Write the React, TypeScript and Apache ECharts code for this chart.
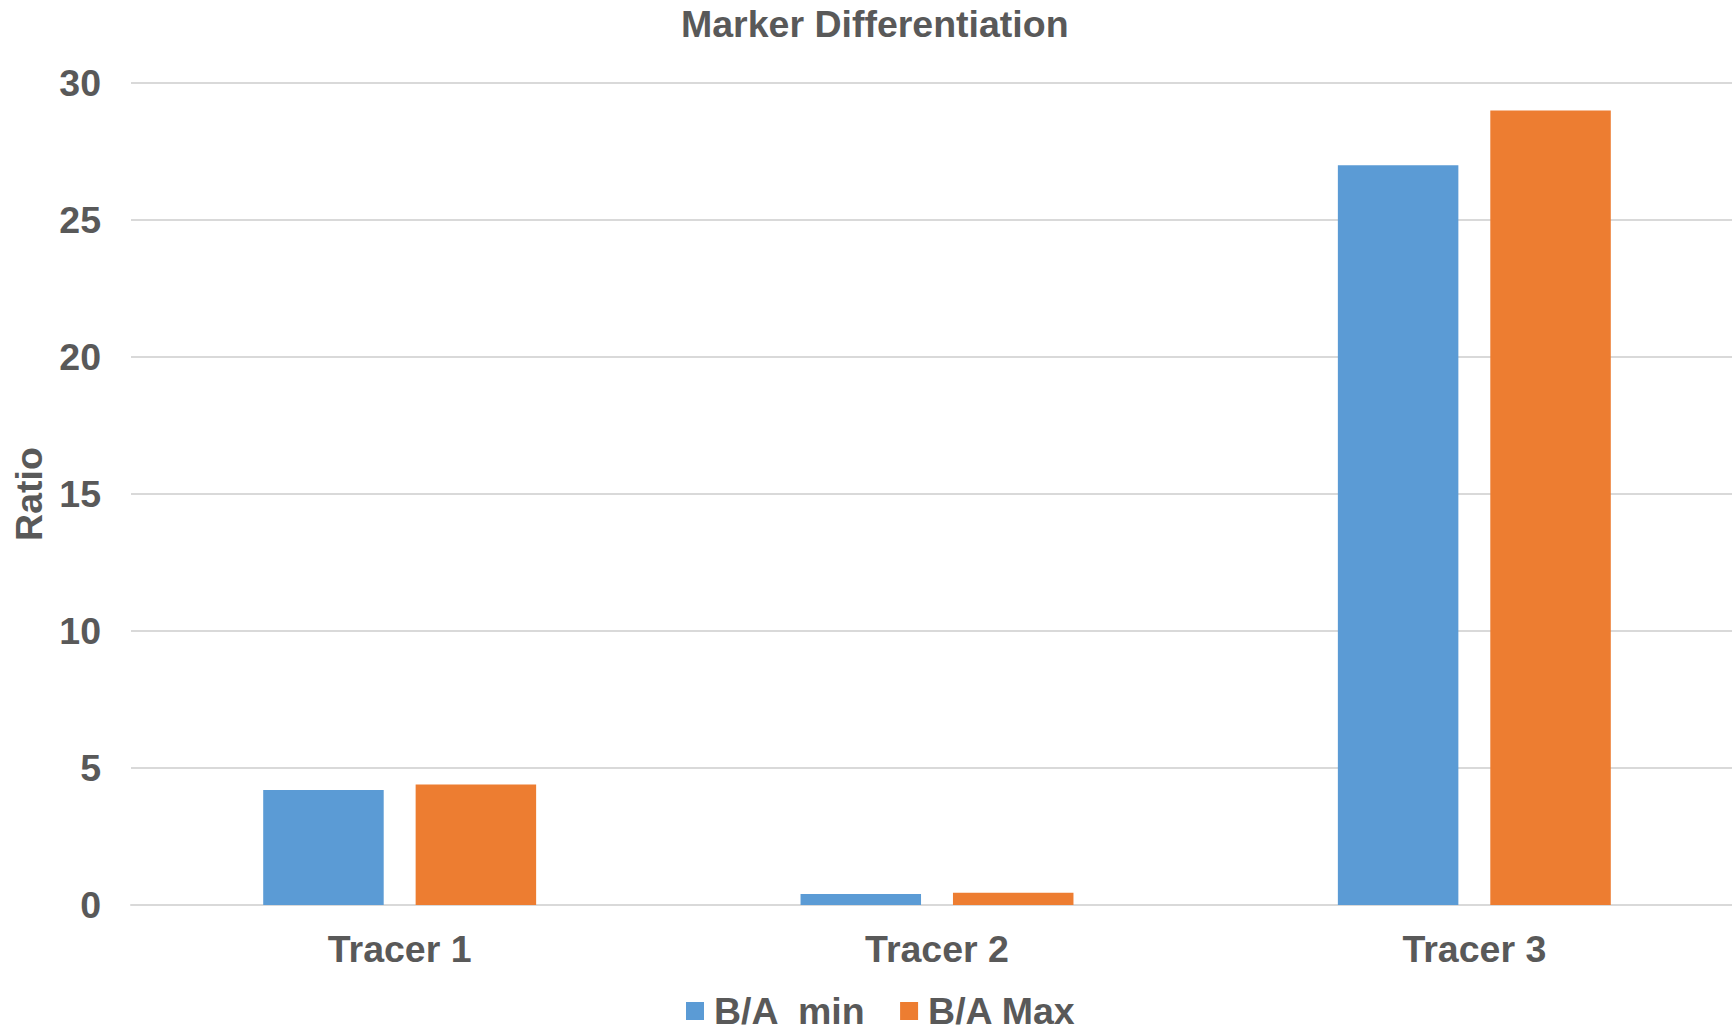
import React, { useEffect, useRef } from "react";
import * as echarts from "echarts";

const categories = ["Tracer 1", "Tracer 2", "Tracer 3"];
const seriesNames = ["B/A  min", "B/A Max"];
const minValues = [4.2, 0.4, 27];
const maxValues = [4.4, 0.45, 29];
const yTicks = { min: 0, max: 30, interval: 5 };

const FONT = '"Liberation Sans", Arial, sans-serif';
const TEXT = "#595959";
const FS = 37.5;

export default function App() {
  const ref = useRef<HTMLDivElement>(null);
  useEffect(() => {
    if (!ref.current) return;
    const chart = echarts.init(ref.current, null, { renderer: "svg" });
    chart.setOption({
      animation: false,
      backgroundColor: "#ffffff",
      title: {
        text: "Marker Differentiation",
        left: 681,
        top: 0,
        padding: [5, 0, 0, 0],
        textStyle: { fontFamily: FONT, fontSize: FS, fontWeight: "bold", color: TEXT },
      },
      legend: {
        data: seriesNames,
        left: 686,
        top: 992,
        padding: 0,
        itemWidth: 18,
        itemHeight: 18,
        itemGap: 34,
        icon: "rect",
        textStyle: {
          fontFamily: FONT,
          fontSize: FS,
          fontWeight: "bold",
          color: TEXT,
          lineHeight: 30,
          padding: [0, 0, 0, 5],
        },
      },
      grid: {
        left: 131,
        width: 1612,
        top: 83,
        height: 822,
        containLabel: false,
        outerBoundsMode: "none",
      },
      xAxis: {
        type: "category",
        data: categories,
        axisLine: { show: true, lineStyle: { color: "#D9D9D9", width: 2 } },
        axisTick: { show: false },
        axisLabel: { fontFamily: FONT, fontSize: FS, fontWeight: "bold", color: TEXT, margin: 25 },
      },
      yAxis: {
        type: "value",
        min: yTicks.min,
        max: yTicks.max,
        interval: yTicks.interval,
        name: "Ratio",
        nameLocation: "middle",
        nameGap: 82,
        nameRotate: 90,
        nameTextStyle: { fontFamily: FONT, fontSize: FS, fontWeight: "bold", color: TEXT },
        axisLine: { show: false },
        axisTick: { show: false },
        axisLabel: { fontFamily: FONT, fontSize: FS, fontWeight: "bold", color: TEXT, margin: 30 },
        splitLine: { lineStyle: { color: "#D9D9D9", width: 2 } },
      },
      series: [
        {
          name: seriesNames[0],
          type: "bar",
          data: minValues,
          barWidth: 120.5,
          barGap: "26.5%",
          itemStyle: { color: "#5B9BD5" },
        },
        {
          name: seriesNames[1],
          type: "bar",
          data: maxValues,
          barWidth: 120.5,
          barGap: "26.5%",
          itemStyle: { color: "#ED7D31" },
        },
      ],
    });
    return () => chart.dispose();
  }, []);
  return (
    <div
      ref={ref}
      style={{ position: "fixed", left: 0, top: 0, width: 1732, height: 1033 }}
    />
  );
}
